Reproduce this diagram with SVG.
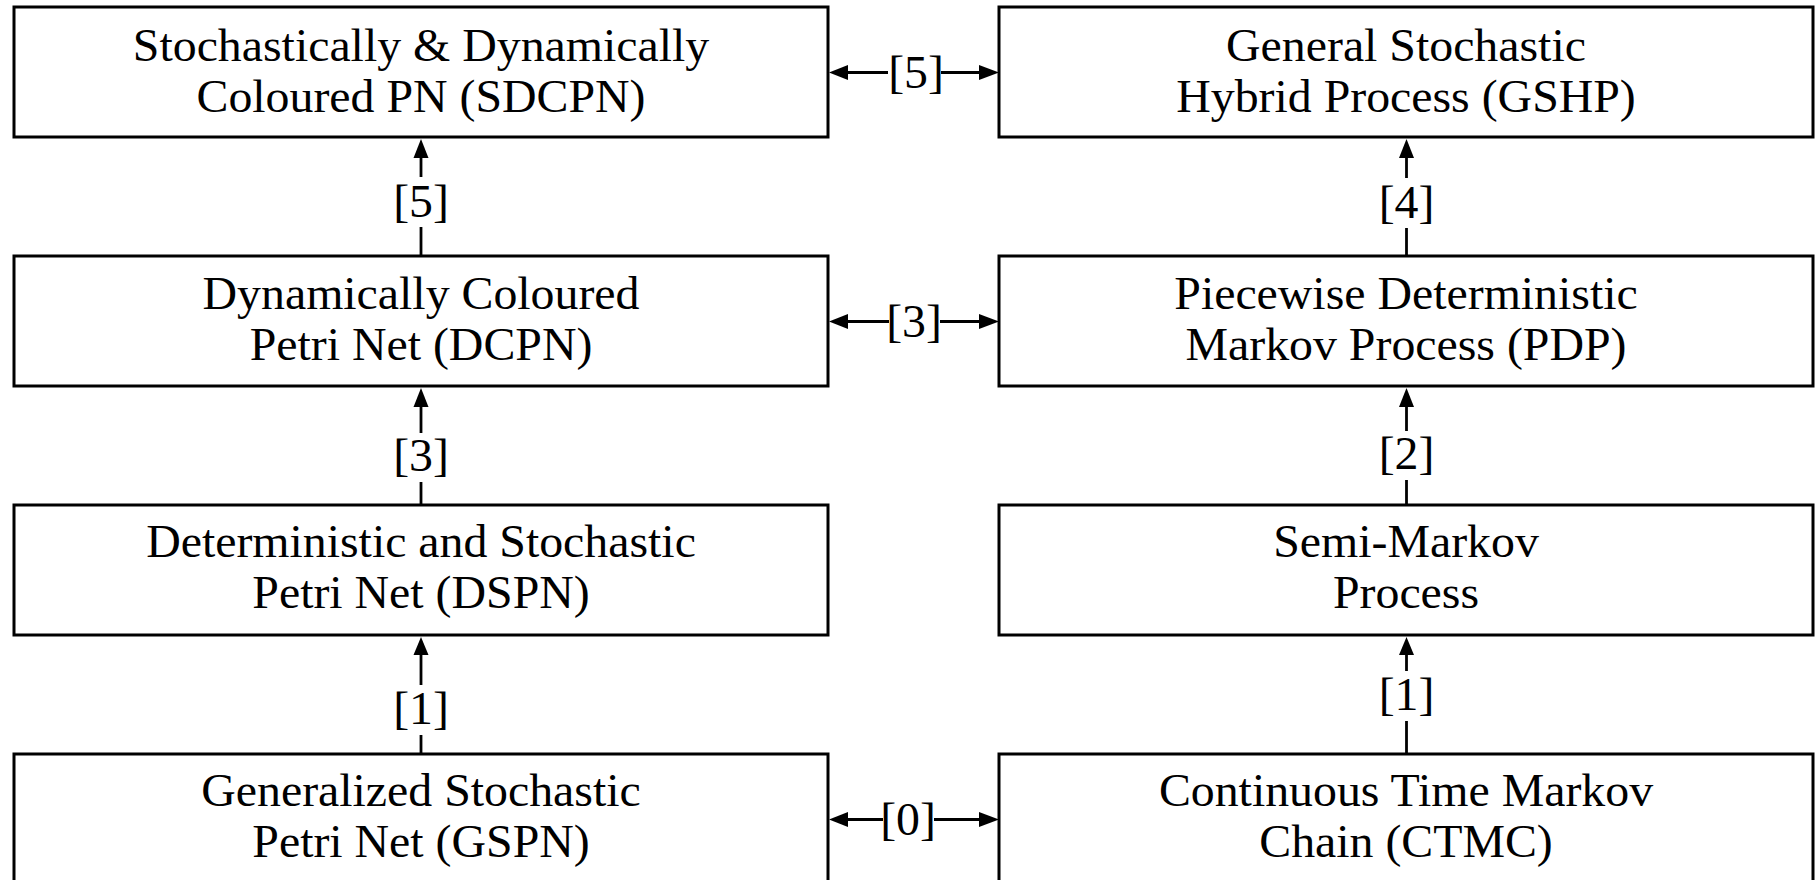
<svg xmlns="http://www.w3.org/2000/svg" width="1816" height="880" viewBox="0 0 1816 880">
<style>
  .box { fill: #ffffff; stroke: #000000; stroke-width: 3; }
  .t { font-family: "Liberation Serif", "Times New Roman", serif; font-size: 46px; fill: #000000; text-anchor: middle; }
  .ln { stroke: #000000; stroke-width: 2.8; fill: none; }
  .ah { fill: #000000; stroke: none; }
</style>
<rect width="1816" height="880" fill="#ffffff"/>

<g id="node-sdcpn">
  <rect class="box" x="14" y="7" width="814" height="130"/>
  <text class="t" transform="translate(421 0) scale(1.04 1)" x="0" y="61">Stochastically &amp; Dynamically</text>
  <text class="t" transform="translate(421 0) scale(1.04 1)" x="0" y="112">Coloured PN (SDCPN)</text>
</g>
<g id="node-gshp">
  <rect class="box" x="999" y="7" width="814" height="130"/>
  <text class="t" transform="translate(1406 0) scale(1.04 1)" x="0" y="61">General Stochastic</text>
  <text class="t" transform="translate(1406 0) scale(1.04 1)" x="0" y="112">Hybrid Process (GSHP)</text>
</g>
<g id="node-dcpn">
  <rect class="box" x="14" y="256" width="814" height="130"/>
  <text class="t" transform="translate(421 0) scale(1.04 1)" x="0" y="309">Dynamically Coloured</text>
  <text class="t" transform="translate(421 0) scale(1.04 1)" x="0" y="360">Petri Net (DCPN)</text>
</g>
<g id="node-pdp">
  <rect class="box" x="999" y="256" width="814" height="130"/>
  <text class="t" transform="translate(1406 0) scale(1.04 1)" x="0" y="309">Piecewise Deterministic</text>
  <text class="t" transform="translate(1406 0) scale(1.04 1)" x="0" y="360">Markov Process (PDP)</text>
</g>
<g id="node-dspn">
  <rect class="box" x="14" y="505" width="814" height="130"/>
  <text class="t" transform="translate(421 0) scale(1.04 1)" x="0" y="557">Deterministic and Stochastic</text>
  <text class="t" transform="translate(421 0) scale(1.04 1)" x="0" y="608">Petri Net (DSPN)</text>
</g>
<g id="node-smp">
  <rect class="box" x="999" y="505" width="814" height="130"/>
  <text class="t" transform="translate(1406 0) scale(1.04 1)" x="0" y="557">Semi-Markov</text>
  <text class="t" transform="translate(1406 0) scale(1.04 1)" x="0" y="608">Process</text>
</g>
<g id="node-gspn">
  <rect class="box" x="14" y="754" width="814" height="134"/>
  <text class="t" transform="translate(421 0) scale(1.04 1)" x="0" y="806">Generalized Stochastic</text>
  <text class="t" transform="translate(421 0) scale(1.04 1)" x="0" y="857">Petri Net (GSPN)</text>
</g>
<g id="node-ctmc">
  <rect class="box" x="999" y="754" width="814" height="134"/>
  <text class="t" transform="translate(1406 0) scale(1.04 1)" x="0" y="806">Continuous Time Markov</text>
  <text class="t" transform="translate(1406 0) scale(1.04 1)" x="0" y="857">Chain (CTMC)</text>
</g>

<g id="connectors">
  <!-- row 1 horizontal [5] -->
  <line class="ln" x1="846" y1="72.5" x2="888" y2="72.5"/>
  <line class="ln" x1="941" y1="72.5" x2="981" y2="72.5"/>
  <polygon class="ah" points="829,72.5 848,65 848,80"/>
  <polygon class="ah" points="999,72.5 979,65 979,80"/>
  <text class="t" transform="translate(916 0) scale(1.04 1)" x="0" y="88.5">[5]</text>

  <!-- row 2 horizontal [3] -->
  <line class="ln" x1="846" y1="321.5" x2="889" y2="321.5"/>
  <line class="ln" x1="940" y1="321.5" x2="981" y2="321.5"/>
  <polygon class="ah" points="829,321.5 848,314 848,329"/>
  <polygon class="ah" points="999,321.5 979,314 979,329"/>
  <text class="t" transform="translate(914 0) scale(1.04 1)" x="0" y="337.5">[3]</text>

  <!-- row 4 horizontal [0] -->
  <line class="ln" x1="846" y1="819.5" x2="883" y2="819.5"/>
  <line class="ln" x1="934" y1="819.5" x2="981" y2="819.5"/>
  <polygon class="ah" points="829,819.5 848,812 848,827"/>
  <polygon class="ah" points="999,819.5 979,812 979,827"/>
  <text class="t" transform="translate(908 0) scale(1.04 1)" x="0" y="835.5">[0]</text>

  <!-- left column: DCPN -> SDCPN [5] -->
  <line class="ln" x1="421" y1="156" x2="421" y2="177"/>
  <line class="ln" x1="421" y1="227" x2="421" y2="256"/>
  <polygon class="ah" points="421,139 413.5,158 428.5,158"/>
  <text class="t" transform="translate(421 0) scale(1.04 1)" x="0" y="217">[5]</text>

  <!-- left column: DSPN -> DCPN [3] -->
  <line class="ln" x1="421" y1="405" x2="421" y2="433"/>
  <line class="ln" x1="421" y1="482" x2="421" y2="505"/>
  <polygon class="ah" points="421,388 413.5,407 428.5,407"/>
  <text class="t" transform="translate(421 0) scale(1.04 1)" x="0" y="471">[3]</text>

  <!-- left column: GSPN -> DSPN [1] -->
  <line class="ln" x1="421" y1="653" x2="421" y2="685"/>
  <line class="ln" x1="421" y1="735" x2="421" y2="754"/>
  <polygon class="ah" points="421,637 413.5,655 428.5,655"/>
  <text class="t" transform="translate(421 0) scale(1.04 1)" x="0" y="724">[1]</text>

  <!-- right column: PDP -> GSHP [4] -->
  <line class="ln" x1="1406.5" y1="156" x2="1406.5" y2="178"/>
  <line class="ln" x1="1406.5" y1="228" x2="1406.5" y2="256"/>
  <polygon class="ah" points="1406.5,139 1399,158 1414,158"/>
  <text class="t" transform="translate(1406.5 0) scale(1.04 1)" x="0" y="218">[4]</text>

  <!-- right column: SMP -> PDP [2] -->
  <line class="ln" x1="1406.5" y1="405" x2="1406.5" y2="431"/>
  <line class="ln" x1="1406.5" y1="480" x2="1406.5" y2="505"/>
  <polygon class="ah" points="1406.5,388 1399,407 1414,407"/>
  <text class="t" transform="translate(1406.5 0) scale(1.04 1)" x="0" y="469.5">[2]</text>

  <!-- right column: CTMC -> SMP [1] -->
  <line class="ln" x1="1406.5" y1="653" x2="1406.5" y2="671"/>
  <line class="ln" x1="1406.5" y1="721" x2="1406.5" y2="754"/>
  <polygon class="ah" points="1406.5,637 1399,655 1414,655"/>
  <text class="t" transform="translate(1406.5 0) scale(1.04 1)" x="0" y="710">[1]</text>
</g>
</svg>
